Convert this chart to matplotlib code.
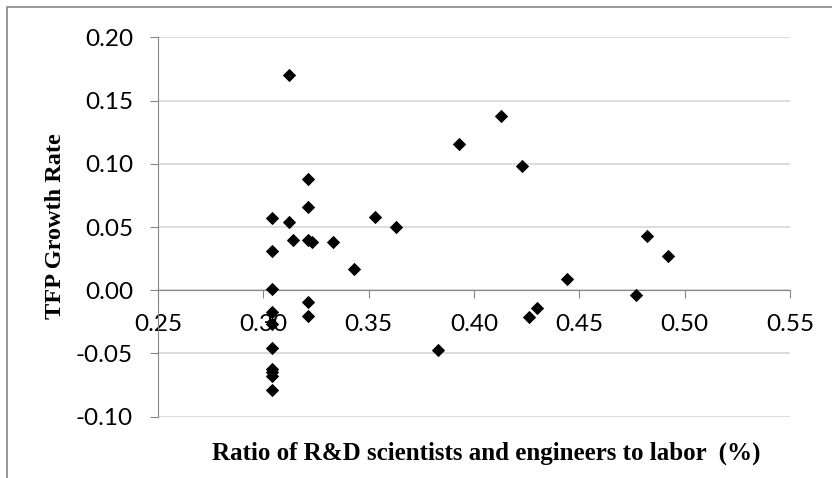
import matplotlib
matplotlib.use("Agg")
import matplotlib.pyplot as plt
from matplotlib.patches import Rectangle

# ratio of R&D scientists and engineers to labor (%)
rd_ratio = [0.312, 0.321, 0.321, 0.304, 0.312, 0.353, 0.363, 0.314, 0.321, 0.323,
            0.333, 0.304, 0.343, 0.304, 0.321, 0.321, 0.304, 0.304, 0.304,
            0.304, 0.304, 0.304, 0.304,
            0.413, 0.393, 0.423, 0.482, 0.492, 0.444, 0.477, 0.430, 0.426, 0.383]
# TFP growth rate
tfp_growth = [0.170, 0.088, 0.066, 0.057, 0.054, 0.058, 0.050, 0.040, 0.040, 0.038,
              0.038, 0.031, 0.017, 0.001, -0.009, -0.020, -0.017, -0.027, -0.046,
              -0.062, -0.065, -0.068, -0.079,
              0.138, 0.116, 0.098, 0.043, 0.027, 0.009, -0.004, -0.014, -0.021, -0.047]

x_ticks = [0.25, 0.30, 0.35, 0.40, 0.45, 0.50, 0.55]
y_ticks = [-0.10, -0.05, 0.00, 0.05, 0.10, 0.15, 0.20]

axis_grey = "#868686"
grid_grey = "#d9d9d9"

fig = plt.figure(figsize=(8.32, 4.78), dpi=100)
ax = fig.add_axes([158 / 832, 1 - 416.7 / 478, 632 / 832, 379.4 / 478])

ax.scatter(rd_ratio, tfp_growth, marker="D", s=46, color="black", zorder=3, linewidths=0)

ax.set_xlim(0.25, 0.55)
ax.set_ylim(-0.10, 0.20)
ax.set_xticks(x_ticks)
ax.set_yticks(y_ticks)
ax.set_xticklabels([f"{v:.2f}" for v in x_ticks])
ax.set_yticklabels([f"{v:.2f}" for v in y_ticks])

# horizontal gridlines
ax.yaxis.grid(True, color=grid_grey, linewidth=1.3)
ax.set_axisbelow(True)

# x axis crosses at zero
ax.spines["bottom"].set_position(("data", 0))
ax.spines["bottom"].set_color(axis_grey)
ax.spines["left"].set_color(axis_grey)
ax.spines["top"].set_visible(False)
ax.spines["right"].set_visible(False)
ax.spines["bottom"].set_zorder(2)

ax.tick_params(axis="x", direction="out", length=6, color=axis_grey, pad=11,
               labelsize=17.5)
ax.tick_params(axis="y", direction="out", length=6, color=axis_grey, pad=12,
               labelsize=17.5)
for lbl in ax.get_xticklabels() + ax.get_yticklabels():
    lbl.set_fontfamily("Lato")

fig.text(486 / 832, 1 - 453 / 478, "Ratio of R&D scientists and engineers to labor  (%)",
         ha="center", va="center", fontsize=18, fontweight="bold",
         family="Liberation Serif")
fig.text(56 / 832, 1 - 226 / 478, "TFP Growth Rate", rotation=90,
         ha="center", va="center", fontsize=17.5, fontweight="bold",
         family="Liberation Serif")

# outer chart frame
fig.patches.append(Rectangle((7 / 832, -0.1), 1.2, 1 - 7 / 478 + 0.1,
                             transform=fig.transFigure, fill=False,
                             edgecolor=axis_grey, linewidth=1.2))

fig.savefig("out.png", dpi=100)
